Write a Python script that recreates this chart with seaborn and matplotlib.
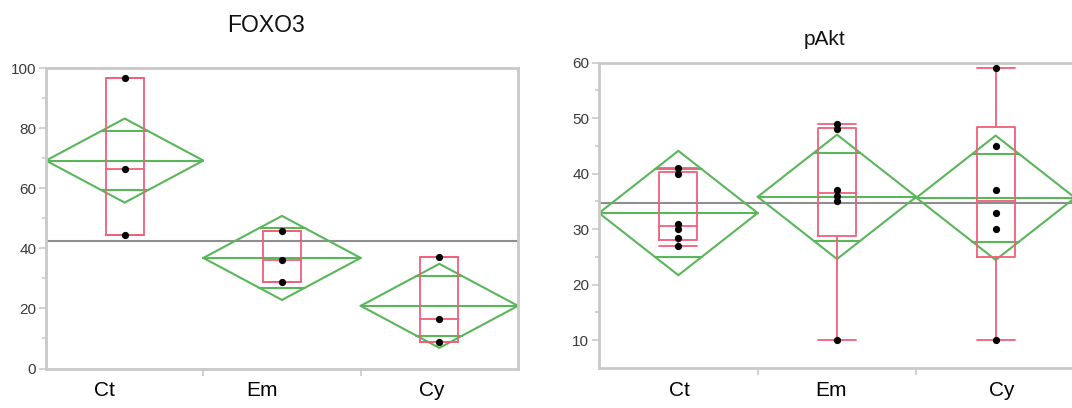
import numpy as np
import pandas as pd
import matplotlib
matplotlib.use("Agg")
import matplotlib.pyplot as plt
import matplotlib.transforms as mtransforms
import seaborn as sns

# ---- data ---------------------------------------------------------------
groups = ["Ct", "Em", "Cy"]

foxo3_ct = [44.5, 66.5, 96.8]
foxo3_em = [28.8, 36.0, 45.7]
foxo3_cy = [8.9, 16.5, 37.2]
foxo3_ci = [14.0, 14.0, 14.0]          # 95% CI half-width of each mean

pakt_ct = [27.0, 28.5, 30.0, 31.0, 40.0, 41.0]
pakt_em = [10.0, 35.0, 36.0, 37.0, 48.0, 49.0]
pakt_cy = [10.0, 30.0, 33.0, 37.0, 45.0, 59.0]
pakt_ci = [11.2, 11.2, 11.2]

# ---- style --------------------------------------------------------------
sns.set_theme(style="white")
plt.rcParams["font.family"] = ["Liberation Sans", "DejaVu Sans"]

GREEN = "#5ab65a"
RED = "#f0607a"
SPINE = "#c9c9c9"
GRAND = "#8e8e8e"
TICKTXT = "#3a3a3a"

W, H = 1072, 408
fig = plt.figure(figsize=(W / 100, H / 100), dpi=100)


def px_axes(x0, x1, ytop, ybot):
    return fig.add_axes([x0 / W, 1 - ybot / H, (x1 - x0) / W, (ybot - ytop) / H])


def draw_panel(ax, samples, ci, ylim, major, minor, label_shift):
    df = pd.DataFrame({
        "group": np.repeat(groups, [len(s) for s in samples]),
        "value": np.concatenate(samples),
    })
    allvals = df["value"].to_numpy()

    # grand mean reference line
    ax.axhline(allvals.mean(), color=GRAND, lw=1.5, zorder=1)

    for i, vals in enumerate(samples):
        vals = np.asarray(vals, dtype=float)
        m = vals.mean()
        h = ci[i]
        # means diamond with overlap marks
        ax.plot([i - 0.5, i, i + 0.5, i, i - 0.5], [m, m + h, m, m - h, m],
                color=GREEN, lw=1.5, zorder=2, solid_joinstyle="miter")
        ax.plot([i - 0.5, i + 0.5], [m, m], color=GREEN, lw=1.5, zorder=2)
        d = h / np.sqrt(2)
        hw = 0.5 * (1 - 1 / np.sqrt(2))
        for y in (m + d, m - d):
            ax.plot([i - hw, i + hw], [y, y], color=GREEN, lw=1.5, zorder=2)

        # quantile box
        q1, med, q3 = np.percentile(vals, [25, 50, 75], method="weibull")
        iqr = q3 - q1
        lo = vals[vals >= q1 - 1.5 * iqr].min()
        hi = vals[vals <= q3 + 1.5 * iqr].max()
        bw = 0.12
        ax.plot([i - bw, i + bw, i + bw, i - bw, i - bw], [q1, q1, q3, q3, q1],
                color=RED, lw=1.3, zorder=3)
        ax.plot([i - bw, i + bw], [med, med], color=RED, lw=1.3, zorder=3)
        ax.plot([i, i], [q3, hi], color=RED, lw=1.3, zorder=3)
        ax.plot([i, i], [lo, q1], color=RED, lw=1.3, zorder=3)
        ax.plot([i - bw, i + bw], [hi, hi], color=RED, lw=1.3, zorder=3)
        ax.plot([i - bw, i + bw], [lo, lo], color=RED, lw=1.3, zorder=3)

    sns.stripplot(data=df, x="group", y="value", order=groups, jitter=False,
                  color="black", size=5.2, linewidth=0, ax=ax, zorder=5)

    ax.set_xlim(-0.5, 2.5)
    ax.set_ylim(*ylim)
    ax.set_xlabel("")
    ax.set_ylabel("")

    ax.set_xticks([0, 1, 2])
    ax.set_xticklabels(groups, fontsize=15, color="black")
    ax.set_xticks([0.5, 1.5], minor=True)
    ax.tick_params(axis="x", which="major", length=0, pad=9)
    ax.tick_params(axis="x", which="minor", length=5, width=1.2,
                   color=SPINE, direction="out", bottom=True)
    for lab, dx in zip(ax.get_xticklabels(), label_shift):
        lab.set_transform(lab.get_transform() +
                          mtransforms.ScaledTranslation(dx / 100, 0, fig.dpi_scale_trans))

    ax.set_yticks(major)
    ax.set_yticklabels([str(v) for v in major], fontsize=11, color=TICKTXT)
    ax.set_yticks(minor, minor=True)
    ax.tick_params(axis="y", which="major", length=5, width=1.2,
                   color=SPINE, direction="out", left=True, pad=2)
    ax.tick_params(axis="y", which="minor", length=3, width=1.2,
                   color=SPINE, direction="out", left=True)

    for sp in ax.spines.values():
        sp.set_visible(True)
        sp.set_color(SPINE)
        sp.set_linewidth(2)


ax1 = px_axes(46, 518, 68.3, 368.5)
draw_panel(ax1, [foxo3_ct, foxo3_em, foxo3_cy], foxo3_ci, (0, 100),
           [0, 20, 40, 60, 80, 100], [10, 30, 50, 70, 90], [-20, -20, -8])

ax2 = px_axes(599, 1075, 62.7, 368.0)
draw_panel(ax2, [pakt_ct, pakt_em, pakt_cy], pakt_ci, (5, 60),
           [10, 20, 30, 40, 50, 60], [15, 25, 35, 45, 55], [1, -6, 6])

fig.text(266 / W, 1 - 32 / H, "FOXO3", ha="center", va="baseline",
         fontsize=16.5, color="#111111")
fig.text(825 / W, 1 - 45 / H, "pAkt", ha="center", va="baseline",
         fontsize=15, color="#111111")

fig.savefig("out.png", dpi=100, facecolor="white")
